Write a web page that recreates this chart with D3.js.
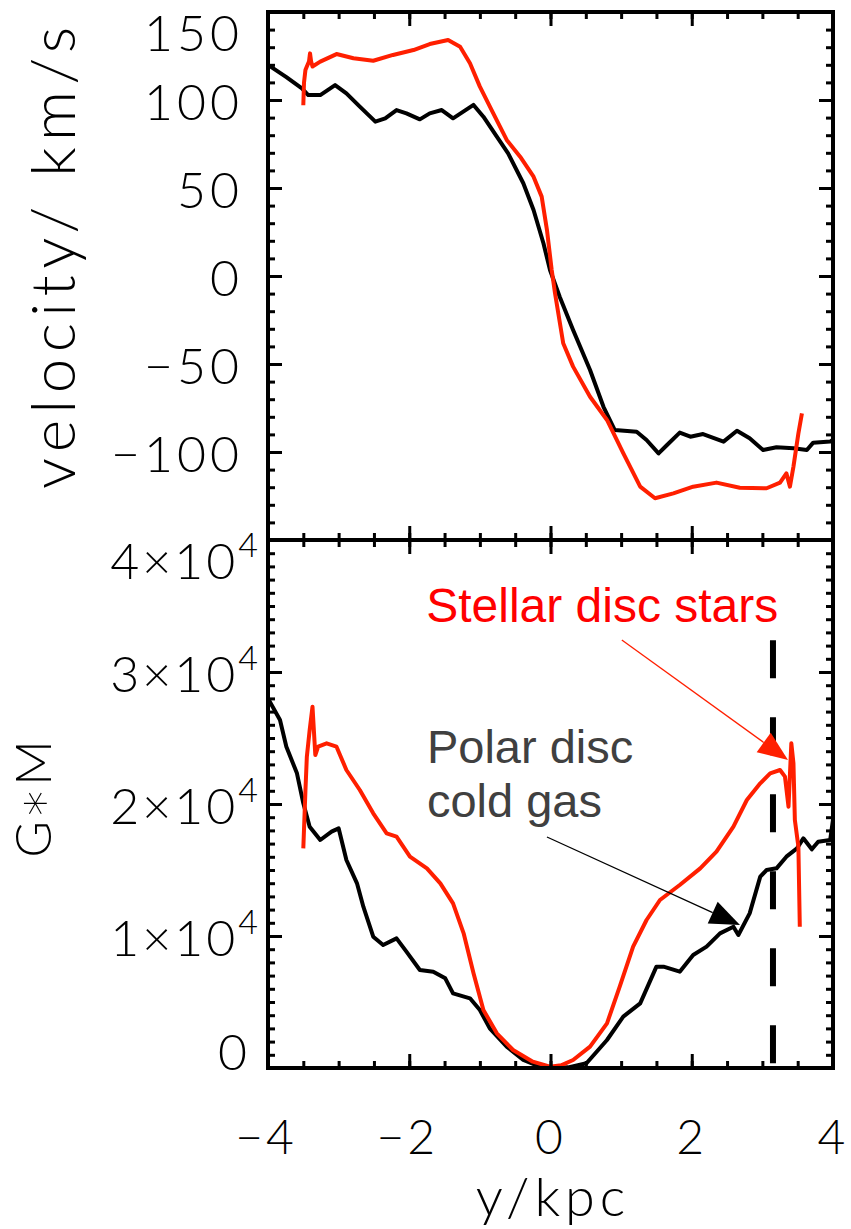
<!DOCTYPE html>
<html><head><meta charset="utf-8">
<script src="https://cdn.jsdelivr.net/npm/d3@7"></script>
<style>html,body{margin:0;padding:0;background:#fff;} svg{display:block;}</style>
</head><body>
<svg id="chart" width="851" height="1229"></svg>
<script>
// ---------------- data ----------------
const xTickValues = [-4, -2, 0, 2, 4];
const xTickLabels = ["\u22124", "\u22122", "0", "2", "4"];
const velTickValues = [150, 100, 50, 0, -50, -100];
const velTickLabels = ["150", "100", "50", "0", "\u221250", "\u2212100"];
const massTickValues = [40000, 30000, 20000, 10000, 0];
const massTickMant = ["4", "3", "2", "1", "0"];

// velocity, polar disc cold gas (black)
const velGasX = [-4.0, -3.74, -3.52, -3.43, -3.26, -3.05, -2.89, -2.70, -2.48, -2.34, -2.18, -2.04, -1.85, -1.71, -1.54, -1.38, -1.09, -0.95, -0.76, -0.60, -0.385, -0.24, -0.10, -0.007, 0.13, 0.32, 0.56, 0.75, 0.91, 1.22, 1.36, 1.53, 1.65, 1.83, 1.98, 2.16, 2.45, 2.64, 2.82, 3.01, 3.20, 3.44, 3.63, 3.72, 3.96, 4.0];
const velGasY = [120, 113, 106.6, 102.8, 102.8, 108.5, 103.8, 96.2, 87.7, 89.6, 94.3, 92.4, 89.0, 92.4, 94.3, 89.6, 97.2, 90.5, 79.2, 69.7, 52.7, 37.5, 18.6, 3.4, -11.8, -30.7, -53.4, -74.3, -87.5, -88.5, -93.2, -100.8, -96, -89, -91.3, -89.8, -94.1, -87.9, -92.2, -98.9, -97.3, -97.9, -98.9, -94.7, -94.1, -93];

// velocity, stellar disc stars (red)
const velStarX = [-3.5, -3.49, -3.47, -3.45, -3.42, -3.405, -3.39, -3.37, -3.26, -3.03, -2.79, -2.51, -2.23, -1.94, -1.71, -1.45, -1.28, -1.14, -1.0, -0.81, -0.62, -0.43, -0.24, -0.125, -0.05, 0.017, 0.064, 0.18, 0.32, 0.56, 0.80, 1.03, 1.27, 1.48, 1.74, 2.02, 2.35, 2.68, 3.06, 3.25, 3.34, 3.39, 3.44, 3.51, 3.56];
const velStarY = [97, 110, 117, 119, 121.8, 126.5, 122, 119, 121.8, 126.1, 123.7, 122.3, 125.6, 128.4, 131.8, 134.1, 130.3, 120.9, 107.6, 92.4, 77.3, 67.8, 56.4, 45.1, 26.1, 3.4, -9.8, -38.2, -51.5, -68.6, -81.8, -100.7, -119.7, -126.3, -123.5, -119.7, -117.4, -120.3, -120.6, -117.4, -112.1, -119.7, -108.3, -89.4, -78];

// G*M, polar disc cold gas (black)
const massGasX = [-4.0, -3.83, -3.74, -3.59, -3.5, -3.41, -3.26, -3.10, -3.0, -2.89, -2.74, -2.65, -2.51, -2.37, -2.18, -2.04, -1.85, -1.66, -1.49, -1.38, -1.14, -1.0, -0.86, -0.62, -0.385, -0.15, 0.05, 0.25, 0.51, 0.80, 1.03, 1.27, 1.50, 1.6, 1.83, 2.02, 2.21, 2.40, 2.59, 2.66, 2.82, 2.97, 3.06, 3.2, 3.34, 3.49, 3.58, 3.70, 3.79, 3.96, 4.0];
const massGasY = [28000, 26364, 24343, 22323, 20050, 18283, 17273, 17904, 18157, 15758, 13990, 12222, 9949, 9318, 9823, 8813, 7424, 7298, 6793, 5657, 5278, 4394, 3005, 1616, 606, 100, 0, 50, 356, 2121, 3889, 4899, 7677, 7677, 7298, 8561, 9192, 10202, 10707, 10076, 11717, 14495, 15000, 15126, 16010, 16641, 17399, 16566, 17146, 17273, 18800];

// G*M, stellar disc stars (red)
const massStarX = [-3.5, -3.47, -3.45, -3.41, -3.37, -3.33, -3.29, -3.17, -3.03, -2.89, -2.70, -2.51, -2.32, -2.18, -1.99, -1.75, -1.56, -1.38, -1.23, -1.09, -0.95, -0.76, -0.53, -0.25, -0.007, 0.15, 0.32, 0.56, 0.80, 0.98, 1.17, 1.36, 1.55, 1.83, 2.12, 2.35, 2.59, 2.78, 2.97, 3.11, 3.25, 3.32, 3.37, 3.41, 3.44, 3.46, 3.51, 3.53];
const massStarY = [16641, 21000, 23586, 25606, 27374, 23712, 24343, 24596, 24343, 22576, 21061, 19293, 17778, 17525, 16010, 15126, 13990, 12475, 10202, 7172, 4394, 2626, 1364, 480, 100, 200, 606, 1616, 3384, 6162, 9192, 11212, 12727, 13864, 15126, 16389, 18283, 20303, 21566, 22323, 22576, 22071, 19798, 24596, 23081, 18788, 16768, 10707];

// vertical dashed marker
const dashX = 3.15;
const dashTop = 32400;

// annotations (data coordinates)
const annStarsText = "Stellar disc stars";
const annGasText = ["Polar disc", "cold gas"];
const annStarsArrow = {x0: 1.01, y0: 32424, x1: 3.363, y1: 23333};
const annGasArrow = {x0: -0.05, y0: 17500, x1: 2.683, y1: 10833};

// ---------------- drawing ----------------
const RED = "#ff1f00";
const FONT = "'Liberation Sans', Arial, sans-serif";
const AXFONT = "Lato, 'Liberation Sans', sans-serif";
const AXW = 300;
const svg = d3.select("#chart");
svg.append("rect").attr("width", 851).attr("height", 1229).attr("fill", "#fff");

const x = d3.scaleLinear().domain([-4, 4]).range([268, 833]);
const yV = d3.scaleLinear().domain([-150, 150]).range([540, 12]);
const yM = d3.scaleLinear().domain([0, 40000]).range([1068, 540]);

const zip = (xs, ys) => xs.map((d, i) => [d, ys[i]]);

// clip paths
const defs = svg.append("defs");
defs.append("clipPath").attr("id", "clipTop").append("rect")
  .attr("x", x(-4)).attr("y", yV(150)).attr("width", x(4) - x(-4)).attr("height", yV(-150) - yV(150));
defs.append("clipPath").attr("id", "clipBot").append("rect")
  .attr("x", x(-4)).attr("y", yM(40000)).attr("width", x(4) - x(-4)).attr("height", yM(0) - yM(40000));

function drawLine(data, ys, color, clip, w) {
  svg.append("path").datum(data)
    .attr("clip-path", `url(#${clip})`)
    .attr("fill", "none").attr("stroke", color).attr("stroke-width", w)
    .attr("stroke-linejoin", "round").attr("stroke-linecap", "butt")
    .attr("d", d3.line().x(d => x(d[0])).y(d => ys(d[1])));
}

// top panel curves
drawLine(zip(velGasX, velGasY), yV, "#000", "clipTop", 4);
drawLine(zip(velStarX, velStarY), yV, RED, "clipTop", 4);

// bottom panel curves
drawLine(zip(massGasX, massGasY), yM, "#000", "clipBot", 4);
drawLine(zip(massStarX, massStarY), yM, RED, "clipBot", 4);

// dashed vertical line
svg.append("line")
  .attr("x1", x(dashX)).attr("x2", x(dashX))
  .attr("y1", yM(dashTop)).attr("y2", yM(0))
  .attr("stroke", "#000").attr("stroke-width", 6)
  .attr("stroke-dasharray", "38,39");

// axes ticks
function ticks(axis, tx, ty) {
  const g = svg.append("g").attr("transform", `translate(${tx},${ty})`).call(axis);
  g.select(".domain").remove();
  g.selectAll("line").attr("stroke", "#000").attr("stroke-width", 3);
  g.selectAll("text").remove();
}
const xMinor = d3.range(-4, 4.001, 0.5);
// top panel
ticks(d3.axisTop(x).tickValues(xTickValues).tickSize(-14), 0, yV(150));
ticks(d3.axisTop(x).tickValues(xMinor).tickSize(-7), 0, yV(150));
ticks(d3.axisBottom(x).tickValues(xTickValues).tickSize(-14), 0, yV(-150));
ticks(d3.axisBottom(x).tickValues(xMinor).tickSize(-7), 0, yV(-150));
const vMajor = d3.range(-150, 151, 50), vMinor = d3.range(-150, 151, 10);
ticks(d3.axisLeft(yV).tickValues(vMajor).tickSize(-14), x(-4), 0);
ticks(d3.axisLeft(yV).tickValues(vMinor).tickSize(-7), x(-4), 0);
ticks(d3.axisRight(yV).tickValues(vMajor).tickSize(-14), x(4), 0);
ticks(d3.axisRight(yV).tickValues(vMinor).tickSize(-7), x(4), 0);
// bottom panel
ticks(d3.axisTop(x).tickValues(xTickValues).tickSize(-14), 0, yM(40000));
ticks(d3.axisTop(x).tickValues(xMinor).tickSize(-7), 0, yM(40000));
ticks(d3.axisBottom(x).tickValues(xTickValues).tickSize(-14), 0, yM(0));
ticks(d3.axisBottom(x).tickValues(xMinor).tickSize(-7), 0, yM(0));
const mMajor = d3.range(0, 40001, 10000), mMinor = d3.range(0, 40001, 1000);
ticks(d3.axisLeft(yM).tickValues(mMajor).tickSize(-14), x(-4), 0);
ticks(d3.axisLeft(yM).tickValues(mMinor).tickSize(-7), x(-4), 0);
ticks(d3.axisRight(yM).tickValues(mMajor).tickSize(-14), x(4), 0);
ticks(d3.axisRight(yM).tickValues(mMinor).tickSize(-7), x(4), 0);

// frames
[[yV(150), yV(-150)], [yM(40000), yM(0)]].forEach(([t, b]) => {
  svg.append("rect").attr("x", x(-4)).attr("y", t).attr("width", x(4) - x(-4)).attr("height", b - t)
    .attr("fill", "none").attr("stroke", "#000").attr("stroke-width", 4);
});

// tick labels
const lab = svg.append("g").attr("font-family", AXFONT).attr("font-weight", AXW).attr("fill", "#000");
velTickValues.forEach((v, i) => {
  let yy = yV(v) + 1;
  if (v === 150) yy = yV(v) + 20;
  lab.append("text").attr("x", 243).attr("y", yy)
    .attr("text-anchor", "end").attr("dominant-baseline", "central")
    .attr("font-size", 50).attr("letter-spacing", 4).text(velTickLabels[i]);
});
massTickValues.forEach((v, i) => {
  let yy = yM(v) + 1;
  if (v === 40000) yy = yM(v) + 20;
  if (v === 0) yy = yM(v) - 17;
  const t = lab.append("text").attr("y", yy).attr("text-anchor", "end")
    .attr("dominant-baseline", "central").attr("font-size", 50).attr("letter-spacing", 3);
  if (v === 0) {
    t.attr("x", 250).text("0");
  } else {
    t.attr("x", 258);
    t.append("tspan").text(massTickMant[i] + "\u00d710");
    t.append("tspan").attr("dy", -17).attr("font-size", 34).attr("letter-spacing", 0).text("4");
  }
});
xTickValues.forEach((v, i) => {
  lab.append("text").attr("x", x(v) + (v < 0 ? -2 : 0)).attr("y", 1154)
    .attr("text-anchor", "middle")
    .attr("font-size", 48).attr("letter-spacing", 3).text(xTickLabels[i]);
});

// axis titles
lab.append("text").attr("x", 553).attr("y", 1216).attr("text-anchor", "middle")
  .attr("font-size", 54).attr("letter-spacing", 5).text("y/kpc");
lab.append("text").attr("transform", `translate(75,258) rotate(-90)`).attr("text-anchor", "middle")
  .attr("font-size", 62).attr("textLength", 462).attr("lengthAdjust", "spacing").text("velocity/ km/s");
const gm = lab.append("text").attr("transform", `translate(51,798) rotate(-90)`).attr("text-anchor", "middle")
  .attr("font-size", 50).attr("letter-spacing", 2);
gm.append("tspan").text("G");
gm.append("tspan").attr("font-family", "'DejaVu Sans', sans-serif").attr("font-weight", 200).text("\u2217");
gm.append("tspan").text("M");

// annotations
function arrow(a, color) {
  const X0 = x(a.x0), Y0 = yM(a.y0), X1 = x(a.x1), Y1 = yM(a.y1);
  const dx = X1 - X0, dy = Y1 - Y0, L = Math.hypot(dx, dy);
  const ux = dx / L, uy = dy / L, hl = 30, hw = 12;
  const bx = X1 - ux * hl, by = Y1 - uy * hl;
  svg.append("line").attr("x1", X0).attr("y1", Y0).attr("x2", bx).attr("y2", by)
    .attr("stroke", color).attr("stroke-width", 1.3);
  svg.append("polygon").attr("fill", color)
    .attr("points", [[X1, Y1], [bx - uy * hw, by + ux * hw], [bx + uy * hw, by - ux * hw]].map(p => p.join(",")).join(" "));
}
arrow(annStarsArrow, RED);
arrow(annGasArrow, "#000");

svg.append("text").attr("x", x(-1.76)).attr("y", yM(33788)).attr("font-family", FONT)
  .attr("font-size", 48).attr("fill", "#ff0000").text(annStarsText);
annGasText.forEach((t, i) => {
  svg.append("text").attr("x", x(-1.75)).attr("y", yM(i === 0 ? 23106 : 19015)).attr("font-family", FONT)
    .attr("font-size", 47).attr("fill", "#404040").text(t);
});
</script>
</body></html>
